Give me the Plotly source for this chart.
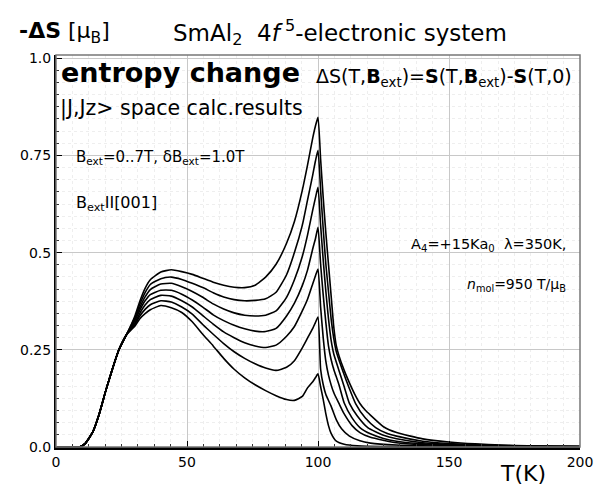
import plotly.graph_objects as go

# ---------------- data ----------------
B_FIELDS = [1, 2, 3, 4, 5, 6, 7]  # Tesla

T_RISE = [0, 9, 11, 14, 16.5, 19, 21.5, 24, 27]
S_RISE = [0.0, 0.0, 0.008, 0.038, 0.085, 0.145, 0.2, 0.25, 0.29]

T_MID = [30, 32, 34, 36, 40, 44, 48, 52, 56, 60, 64, 68, 72, 76, 80, 84, 88, 91, 94, 96, 98, 99, 100]

S_MID_B1 = [0.31, 0.33, 0.343, 0.353, 0.364, 0.358, 0.346, 0.322, 0.290, 0.260, 0.228, 0.200, 0.178, 0.160, 0.145, 0.132, 0.122, 0.120, 0.130, 0.152, 0.168, 0.178, 0.188]
S_MID_B2 = [0.314, 0.337, 0.354, 0.366, 0.376, 0.373, 0.360, 0.342, 0.315, 0.290, 0.266, 0.245, 0.228, 0.214, 0.203, 0.197, 0.205, 0.222, 0.255, 0.280, 0.305, 0.320, 0.334]
S_MID_B3 = [0.318, 0.344, 0.365, 0.379, 0.390, 0.388, 0.376, 0.360, 0.338, 0.316, 0.296, 0.281, 0.268, 0.260, 0.256, 0.262, 0.285, 0.310, 0.350, 0.380, 0.420, 0.440, 0.458]
S_MID_B4 = [0.323, 0.352, 0.376, 0.392, 0.403, 0.403, 0.393, 0.378, 0.360, 0.340, 0.325, 0.313, 0.304, 0.298, 0.297, 0.305, 0.337, 0.370, 0.415, 0.455, 0.510, 0.535, 0.565]
S_MID_B5 = [0.327, 0.359, 0.386, 0.405, 0.419, 0.421, 0.412, 0.400, 0.385, 0.368, 0.355, 0.345, 0.339, 0.337, 0.339, 0.350, 0.385, 0.430, 0.490, 0.545, 0.610, 0.640, 0.668]
S_MID_B6 = [0.331, 0.367, 0.397, 0.418, 0.433, 0.437, 0.431, 0.421, 0.410, 0.397, 0.386, 0.379, 0.376, 0.377, 0.381, 0.398, 0.443, 0.500, 0.570, 0.635, 0.700, 0.735, 0.763]
S_MID_B7 = [0.335, 0.375, 0.408, 0.430, 0.450, 0.456, 0.451, 0.444, 0.434, 0.424, 0.416, 0.411, 0.410, 0.416, 0.437, 0.470, 0.524, 0.580, 0.660, 0.725, 0.795, 0.825, 0.848]

T_TAIL_B1 = [101, 102, 103, 104, 105, 107, 110, 115, 125, 200]
S_TAIL_B1 = [0.155, 0.122, 0.085, 0.055, 0.035, 0.015, 0.007, 0.003, 0.001, 0.0]
T_TAIL_B2 = [101, 102, 103, 105, 107, 109, 112, 116, 120, 130, 150, 200]
S_TAIL_B2 = [0.2, 0.16, 0.135, 0.105, 0.07, 0.047, 0.028, 0.016, 0.01, 0.005, 0.002, 0.0]
T_TAIL_B3 = [101, 102, 103, 104, 106, 108, 110, 113, 116, 120, 130, 140, 150, 170, 200]
S_TAIL_B3 = [0.36, 0.28, 0.22, 0.185, 0.14, 0.112, 0.085, 0.055, 0.037, 0.025, 0.011, 0.006, 0.004, 0.002, 0.001]
T_TAIL_B4 = [101, 102, 103, 104, 105, 106, 108, 110, 113, 116, 120, 125, 130, 140, 150, 170, 200]
S_TAIL_B4 = [0.47, 0.39, 0.32, 0.26, 0.225, 0.2, 0.16, 0.113, 0.075, 0.05, 0.034, 0.022, 0.015, 0.008, 0.005, 0.002, 0.001]
T_TAIL_B5 = [101, 102, 103, 104, 105, 106, 108, 110, 112, 115, 119, 125, 130, 140, 150, 160, 180, 200]
S_TAIL_B5 = [0.57, 0.48, 0.40, 0.33, 0.275, 0.24, 0.197, 0.155, 0.112, 0.08, 0.05, 0.03, 0.021, 0.011, 0.007, 0.004, 0.002, 0.001]
T_TAIL_B6 = [101, 102, 103, 104, 105, 106, 107, 109.4, 112, 114.4, 118, 122, 126, 130, 140, 150, 160, 170, 180, 200]
S_TAIL_B6 = [0.66, 0.56, 0.47, 0.40, 0.33, 0.28, 0.245, 0.197, 0.15, 0.111, 0.075, 0.05, 0.036, 0.028, 0.015, 0.009, 0.006, 0.004, 0.002, 0.001]
T_TAIL_B7 = [101, 102, 103, 104, 105, 106, 107, 108, 110, 112, 114, 116, 118, 120, 125, 130, 140, 150, 160, 170, 180, 190, 200]
S_TAIL_B7 = [0.74, 0.64, 0.55, 0.47, 0.39, 0.31, 0.26, 0.235, 0.197, 0.165, 0.136, 0.112, 0.095, 0.082, 0.052, 0.037, 0.021, 0.013, 0.008, 0.005, 0.003, 0.002, 0.001]

MID = [S_MID_B1, S_MID_B2, S_MID_B3, S_MID_B4, S_MID_B5, S_MID_B6, S_MID_B7]
TAIL_T = [T_TAIL_B1, T_TAIL_B2, T_TAIL_B3, T_TAIL_B4, T_TAIL_B5, T_TAIL_B6, T_TAIL_B7]
TAIL_S = [S_TAIL_B1, S_TAIL_B2, S_TAIL_B3, S_TAIL_B4, S_TAIL_B5, S_TAIL_B6, S_TAIL_B7]

X_TICKS = [0, 50, 100, 150, 200]
Y_TICKS = [0.0, 0.25, 0.5, 0.75, 1.0]
Y_TICK_TEXT = ["0.0", "0.25", "0.5", "0.75", "1.0"]

# ---------------- figure ----------------
# The page body has an 8px margin, so the figure is drawn 8px in from the
# top-left corner; size it to fill the rest of the 605x485 window.
OFF = 8
W, H = 605 - OFF, 485 - OFF
L, R, T, B = 52 - OFF, 24, 55 - OFF, 38
PW, PH = W - L - R, H - T - B
FONT = "DejaVu Sans"

def px(x):  # window pixel -> paper fraction
    return (x - OFF - L) / PW

def py(y):
    return (H - B - (y - OFF)) / PH

fig = go.Figure()
for b, mid, tt, ts in zip(B_FIELDS, MID, TAIL_T, TAIL_S):
    fig.add_trace(go.Scatter(
        x=T_RISE + T_MID + tt,
        y=S_RISE + mid + ts,
        mode="lines",
        line=dict(color="black", width=1.6, shape="spline", smoothing=0.5),
        name=f"{b} T",
        showlegend=False,
        hoverinfo="skip",
    ))

axis_font = dict(family=FONT, size=14, color="black")
fig.update_xaxes(
    range=[0, 200], tickmode="array", tickvals=X_TICKS,
    ticks="inside", ticklen=6, tickcolor="black",
    showline=True, linecolor="black", linewidth=2.5,
    showgrid=True, gridcolor="#c8c8c8", gridwidth=1,
    zeroline=False, tickfont=axis_font,
    minor=dict(dtick=6.25, ticks="inside", ticklen=3, tickcolor="#333",
               showgrid=True, gridcolor="#eeeeee", griddash="dot"),
)
fig.update_yaxes(
    range=[0, 392 / 388.8], tickmode="array", tickvals=Y_TICKS, ticktext=Y_TICK_TEXT,
    ticks="inside", ticklen=6, tickcolor="black",
    showline=True, linecolor="black", linewidth=2,
    showgrid=True, gridcolor="#c8c8c8", gridwidth=1,
    zeroline=False, tickfont=axis_font,
    minor=dict(dtick=0.03125, ticks="inside", ticklen=3, tickcolor="#333",
               showgrid=True, gridcolor="#eeeeee", griddash="dot"),
)

# frame around the plotting area
fig.add_shape(type="rect", xref="paper", yref="paper", x0=0, y0=0, x1=1, y1=1,
              line=dict(color="#777777", width=1.5), layer="above")

ann = [
    ("<b>-ΔS</b> [μ<sub>B</sub>]", 13, 32, 22, "left"),
    ("SmAl<sub>2</sub>\u00a0\u00a04<i>f</i><sup>\u00a05</sup>-electronic system", 168, 32, 23, "left"),
    ("<b>entropy change</b>", 55, 72, 27, "left"),
    ("ΔS(T,<b>B</b><sub>ext</sub>)=<b>S</b>(T,<b>B</b><sub>ext</sub>)-<b>S</b>(T,0)", 575, 77, 19, "right"),
    ("|J,Jz> space calc.results", 54, 108, 20.5, "left"),
    ("B<sub>ext</sub>=0..7T, δB<sub>ext</sub>=1.0T", 70, 157, 15, "left"),
    ("B<sub>ext</sub>II[001]", 70, 203, 16, "left"),
    ("A<sub>4</sub>=+15Ka<sub>0</sub>\u00a0\u00a0λ=350K,", 569, 245, 14.5, "right"),
    ("<i>n</i><sub>mol</sub>=950 T/μ<sub>B</sub>", 569, 285, 14, "right"),
    ("T(K)", 498, 473, 22, "left"),
]
for text, x, y, size, anchor in ann:
    fig.add_annotation(text=text, xref="paper", yref="paper", x=px(x), y=py(y),
                       xanchor=anchor, yanchor="middle", showarrow=False,
                       font=dict(family=FONT, size=size, color="black"))

fig.update_layout(
    width=W, height=H,
    margin=dict(l=L, r=R, t=T, b=B),
    paper_bgcolor="white", plot_bgcolor="white",
    font=dict(family=FONT, color="black"),
)

fig.write_html("out.html")
